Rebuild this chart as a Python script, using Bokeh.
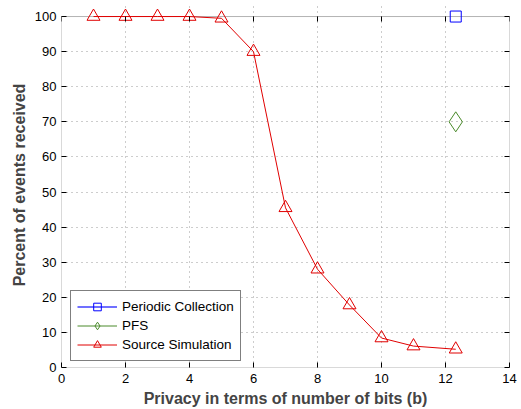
from bokeh.plotting import figure
from bokeh.models import (LinearAxis, Legend, LegendItem, FixedTicker, Range1d,
                          CustomJSTickFormatter, BoxAnnotation)
from bokeh.embed import file_html
from bokeh.resources import INLINE

# Privacy level (bits) and percent of events received
source_bits = [1, 2, 3, 4, 5, 6, 7, 8, 9, 10, 11, 12.32]
source_pct = [100, 100, 100, 100, 99.5, 90, 45.5, 28, 17.8, 8.4, 6.1, 5.2]
periodic_bits = [12.32]
periodic_pct = [100]
pfs_bits = [12.32]
pfs_pct = [70]

x_ticks = [0, 2, 4, 6, 8, 10, 12, 14]
y_ticks = [0, 10, 20, 30, 40, 50, 60, 70, 80, 90, 100]
Y_MAX = 100

FONT = "Liberation Sans"

# The y range reaches a little past 100 so markers on the top line are not cut;
# the axes box itself is drawn at 0..100.
p = figure(width=521, height=409, output_backend="svg", toolbar_location=None,
           x_range=Range1d(0, 14), y_range=Range1d(0, 104),
           min_border_left=61, min_border_right=12, min_border_top=2,
           min_border_bottom=41)
p.background_fill_color = "white"
p.border_fill_color = "white"
p.outline_line_color = None

x_bottom = p.below[0]
y_left = p.left[0]
x_top = LinearAxis(fixed_location=Y_MAX)
y_right = LinearAxis()
p.add_layout(x_top, "above")
p.add_layout(y_right, "right")

def style_axis(ax, ticks, show_labels=True):
    ax.ticker = FixedTicker(ticks=ticks)
    ax.major_tick_in = 5
    ax.major_tick_out = 0
    ax.minor_tick_line_color = None
    ax.axis_line_color = None
    ax.major_tick_line_color = "black"
    ax.major_label_text_font = FONT
    ax.major_label_text_font_size = "13px"
    ax.major_label_text_color = "black"
    ax.major_label_standoff = 5
    if not show_labels:
        # box-style axes: ticks only
        ax.formatter = CustomJSTickFormatter(code="return '';")
        ax.major_label_standoff = 0

style_axis(x_bottom, x_ticks)
style_axis(y_left, y_ticks)
style_axis(x_top, x_ticks, show_labels=False)
style_axis(y_right, y_ticks, show_labels=False)
x_bottom.major_label_standoff = 6

x_bottom.axis_label = "Privacy in terms of number of bits (b)"
y_left.axis_label = "Percent of events received"
for ax in (x_bottom, y_left):
    ax.axis_label_text_font = FONT
    ax.axis_label_text_font_style = "bold"
    ax.axis_label_text_font_size = "16px"
    ax.axis_label_standoff = 4

p.xgrid.ticker = FixedTicker(ticks=x_ticks[1:-1])
p.ygrid.ticker = FixedTicker(ticks=y_ticks[1:-1])
for g in (p.xgrid, p.ygrid):
    g.grid_line_color = "#9a9a9a"
    g.grid_line_dash = "1 4"
    g.grid_line_width = 1
p.xgrid.bounds = (0, Y_MAX)

# axes box
p.add_layout(BoxAnnotation(left=x_ticks[0], right=x_ticks[-1], bottom=0, top=Y_MAX,
                           fill_color=None, line_color="black", line_width=1,
                           level="underlay"))

# Series
r_per_line = p.line(periodic_bits, periodic_pct, line_color="#7070ff", line_width=2)
r_per = p.scatter(periodic_bits, periodic_pct, marker="square", size=11,
                  line_color="blue", fill_color=None, line_width=1)
r_pfs_line = p.line(pfs_bits, pfs_pct, line_color="#4a8a2a", line_width=1)
r_pfs = p.scatter(pfs_bits, pfs_pct, marker="diamond", size=20,
                  line_color="#4a8a2a", fill_color=None, line_width=1)
r_src_line = p.line(source_bits, source_pct, line_color="#e00000", line_width=1)
r_src = p.scatter(source_bits, source_pct, marker="triangle", size=13,
                  line_color="#e00000", fill_color=None, line_width=1)

legend = Legend(items=[
    LegendItem(label="Periodic Collection", renderers=[r_per_line, r_per]),
    LegendItem(label="PFS", renderers=[r_pfs_line, r_pfs]),
    LegendItem(label="Source Simulation", renderers=[r_src_line, r_src]),
], location=(9, 6))
legend.label_text_font = FONT
legend.label_text_font_size = "13.5px"
legend.label_text_color = "black"
legend.glyph_width = 40
legend.glyph_height = 19
legend.spacing = 0
legend.padding = 6
legend.margin = 0
legend.label_standoff = 5
legend.border_line_color = "black"
legend.border_line_width = 1
legend.background_fill_color = "white"
legend.background_fill_alpha = 1
p.add_layout(legend, "center")

open("out.html", "w").write(file_html(p, INLINE))
